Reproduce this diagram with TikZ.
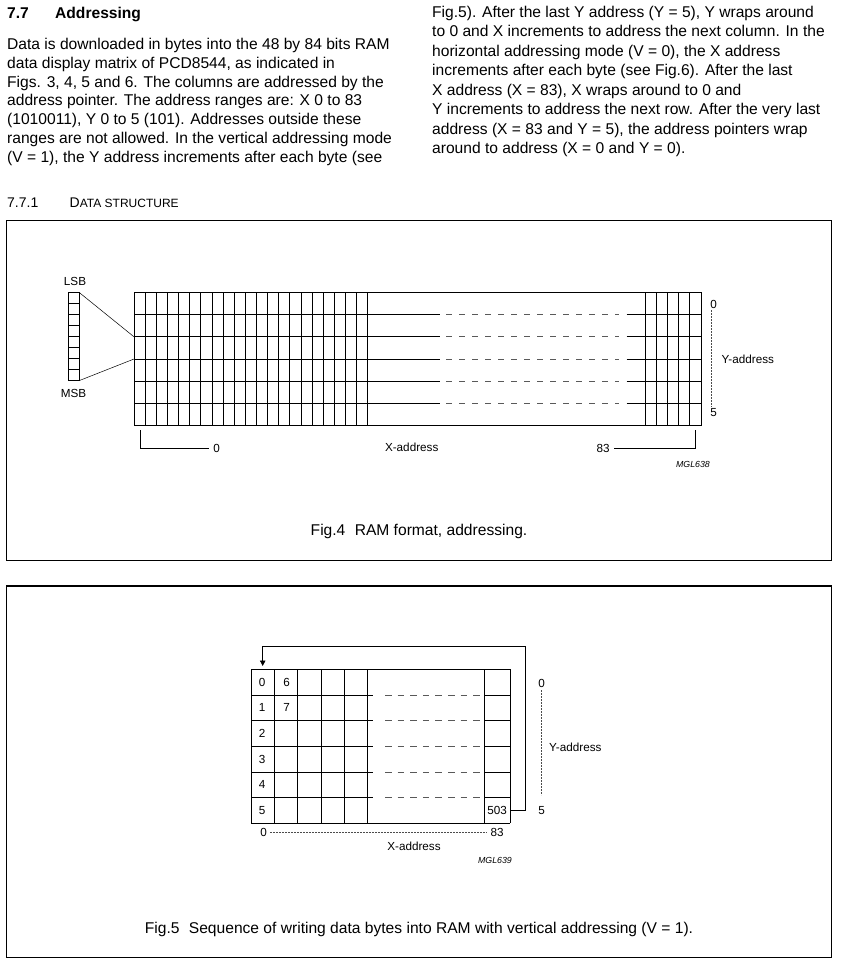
\documentclass[tikz,border=0pt]{standalone}
\usepackage{fontspec}
\setmainfont{Liberation Sans}
\usetikzlibrary{arrows.meta}
\newcommand\bfnt{\fontsize{15.6}{19}\selectfont}
\newcommand\hfnt{\fontsize{15.6}{19}\selectfont\bfseries}
\newcommand\sfnt{\fontsize{14}{16}\selectfont}
\newcommand\scfnt{\fontsize{12}{14}\selectfont}
\newcommand\lfnt{\fontsize{11.7}{14}\selectfont}
\newcommand\mfnt{\fontsize{8.8}{10}\selectfont\itshape}
\begin{document}
\begin{tikzpicture}[x=1pt,y=-1pt,
  txt/.style={font=\bfnt, anchor=base west, inner sep=0pt},
  figcap/.style={font=\bfnt, anchor=base, inner sep=0pt},
  lab/.style={font=\lfnt, inner sep=0pt},
  mgl/.style={font=\mfnt, inner sep=0pt},
  gl/.style={line width=0.8pt, black},
  dl/.style={line width=0.8pt, black!65, dash pattern=on 6.3pt off 6.7pt},
  dl5/.style={line width=0.8pt, black!65, dash pattern=on 6.6pt off 6pt},
  dotl/.style={line width=0.5pt, black!70, dash pattern=on 1.6pt off 1.4pt},
  frm/.style={line width=1.2pt, black},
  arr/.style={line width=0.8pt, -{Triangle[length=5.5pt,width=5.5pt]}}]
\useasboundingbox (0,0) rectangle (843,963);
\fill[white] (0,0) rectangle (843,963);

% ---------- heading and body text ----------
\node[txt, font=\hfnt] (h1) at (7,18.2) {7.7};
\node[txt, font=\hfnt] (h2) at (55,18.2) {Addressing};

\node[txt] (l1) at (7,49.5) {Data is downloaded in bytes into the 48 by 84 bits RAM};
\node[txt] (l2) at (7,68.3) {data display matrix of PCD8544, as indicated in};
\node[txt] (l3) at (7,87.1) {Figs. 3, 4, 5 and 6. The columns are addressed by the};
\node[txt] (l4) at (7,105.9) {address pointer. The address ranges are: X 0 to 83};
\node[txt] (l5) at (7,124.7) {(1010011), Y 0 to 5 (101). Addresses outside these};
\node[txt] (l6) at (7,143.5) {ranges are not allowed. In the vertical addressing mode};
\node[txt] (l7) at (7,162.3) {(V = 1), the Y address increments after each byte (see};

\node[txt] (r1) at (432,17.3) {Fig.5). After the last Y address (Y = 5), Y wraps around};
\node[txt] (r2) at (432,36.8) {to 0 and X increments to address the next column. In the};
\node[txt] (r3) at (432,56.3) {horizontal addressing mode (V = 0), the X address};
\node[txt] (r4) at (432,75.8) {increments after each byte (see Fig.6). After the last};
\node[txt] (r5) at (432,95.3) {X address (X = 83), X wraps around to 0 and};
\node[txt] (r6) at (432,114.8) {Y increments to address the next row. After the very last};
\node[txt] (r7) at (432,134.3) {address (X = 83 and Y = 5), the address pointers wrap};
\node[txt] (r8) at (432,153.8) {around to address (X = 0 and Y = 0).};

\node[txt, font=\sfnt] (s1) at (7,207) {7.7.1};
\node[txt, font=\sfnt] (s2) at (69.5,207) {D{\scfnt ATA STRUCTURE}};

% ---------- frames ----------
\draw[frm] (6.3,220.5) rectangle (831.7,560.5);
\draw[frm] (6.3,586) rectangle (831.7,957.7);

% ---------- Fig.4 ----------
\draw[gl] (68.3,292.3) rectangle (79,380.7);
\foreach \k in {1,...,7} \draw[gl] (68.3,292.3+\k*11.05) -- (79,292.3+\k*11.05);
\coordinate (bt) at (79,292.3);
\coordinate (bb) at (79,380.7);
\coordinate (gt) at (134,336.8);
\coordinate (gb) at (134,359);
\draw[line width=0.5pt] (bt) -- (gt);
\draw[line width=0.5pt] (bb) -- (gb);
\node[lab] (lsb) at (75,281.7) {LSB};
\node[lab] (msb) at (73.5,393.3) {MSB};

\foreach \i in {0,...,21} \draw[gl] (134+\i*11.13,292.3) -- (134+\i*11.13,425.7);
\foreach \i in {0,...,5} \draw[gl] (645+\i*11.2,292.3) -- (645+\i*11.2,425.7);
\draw[gl] (134,292.3) -- (701,292.3);
\draw[gl] (134,425.7) -- (701,425.7);
\foreach \k in {1,...,5} {
  \draw[gl] (134,292.3+\k*22.23) -- (440,292.3+\k*22.23);
  \draw[dl] (446,292.3+\k*22.23) -- (619,292.3+\k*22.23);
  \draw[gl] (626.7,292.3+\k*22.23) -- (701,292.3+\k*22.23);
}
\node[lab] (y40) at (713.5,304) {0};
\node[lab] (y45) at (713.5,413) {5};
\coordinate (yd0) at (711.7,310);
\coordinate (yd1) at (711.7,407);
\draw[dotl] (yd0) -- (yd1);
\node[lab, anchor=west] (ya4) at (721.5,359) {Y-address};
\node[lab] (x40) at (216.5,448) {0};
\node[lab] (x483) at (603,448) {83};
\node[lab] (xa4) at (411.7,447) {X-address};
\coordinate (xl) at (140.7,430);
\coordinate (xr) at (695.3,430);
\draw[line width=0.5pt] (xl) |- ([xshift=-4pt]x40.west);
\draw[line width=0.5pt] (xr) |- ([xshift=4pt]x483.east);
\node[mgl] (m4) at (693,464) {MGL638};
\node[figcap] (c4) at (419,535.5) {Fig.4\hspace{0.6em}RAM format, addressing.};

% ---------- Fig.5 ----------
\foreach \i in {0,...,5} \draw[gl] (251+\i*23.33,669.3) -- (251+\i*23.33,823.3);
\draw[gl] (484.3,669.3) -- (484.3,823.3);
\draw[gl] (510,669.3) -- (510,823.3);
\draw[gl] (251,669.3) -- (510,669.3);
\draw[gl] (251,823.3) -- (510,823.3);
\foreach \k in {1,...,5} {
  \draw[gl] (251,669.3+\k*25.67) -- (373.3,669.3+\k*25.67);
  \draw[dl5] (385,669.3+\k*25.67) -- (480,669.3+\k*25.67);
  \draw[gl] (484.3,669.3+\k*25.67) -- (510,669.3+\k*25.67);
}
\foreach \k in {0,...,5} \node[lab] (n\k) at (262,682.1+\k*25.67) {\k};
\node[lab] (n6) at (286.5,682.1) {6};
\node[lab] (n7) at (286.5,707.8) {7};
\node[lab] (n503) at (497.2,810.5) {503};
\coordinate (w0) at (510,810.5);
\coordinate (w1) at (525.7,646.7);
\coordinate (w2) at (262.7,666);
\draw[arr] (w0) -| (w1) -| (w2);
\node[lab] (y50) at (541.7,683.3) {0};
\node[lab] (y55) at (541.7,810.5) {5};
\coordinate (yd2) at (541.7,690);
\coordinate (yd3) at (541.7,795);
\draw[dotl] (yd2) -- (yd3);
\node[lab, anchor=west] (ya5) at (549,747) {Y-address};
\node[lab] (x50) at (263.5,832.5) {0};
\node[lab] (x583) at (497,832.5) {83};
\draw[dotl] ([xshift=3pt]x50.east) -- ([xshift=-3pt]x583.west);
\node[lab] (xa5) at (414,846.7) {X-address};
\node[mgl] (m5) at (495,860) {MGL639};
\node[figcap] (c5) at (419,933.5) {Fig.5\hspace{0.6em}Sequence of writing data bytes into RAM with vertical addressing (V = 1).};
\end{tikzpicture}
\end{document}
